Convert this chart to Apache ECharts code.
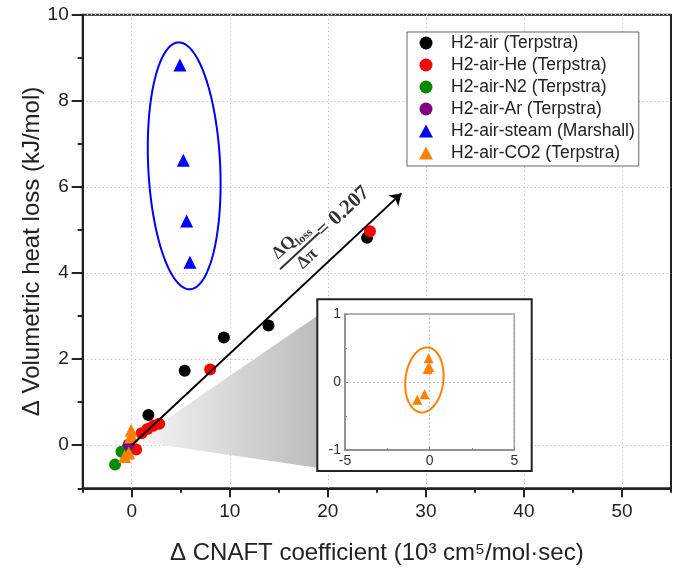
<!DOCTYPE html>
<html><head><meta charset="utf-8">
<script src="https://cdn.jsdelivr.net/npm/echarts@6/dist/echarts.min.js"></script>
<style>html,body{margin:0;padding:0;background:#fff}#c{width:678px;height:571px}</style>
</head><body><div id="c"></div>
<script>
// ---------- data ----------
const seriesNames = ['H2-air (Terpstra)','H2-air-He (Terpstra)','H2-air-N2 (Terpstra)','H2-air-Ar (Terpstra)','H2-air-steam (Marshall)','H2-air-CO2 (Terpstra)'];
const h2Air      = [[1.7,0.70],[5.4,1.73],[9.4,2.50],[13.95,2.78],[24.0,4.82]];
const h2AirHe    = [[0.45,-0.10],[1.0,0.28],[1.6,0.38],[2.2,0.45],[2.8,0.50],[8.0,1.76],[24.3,4.97]];
const h2AirN2    = [[-1.7,-0.45],[-1.05,-0.15],[-0.5,-0.08]];
const h2AirAr    = [[-0.3,0.02]];
const h2AirSteam = [[4.92,8.83],[5.26,6.62],[5.60,5.21],[5.94,4.25]];
const h2AirCO2   = [[-0.06,0.35],[-0.12,0.19],[-0.02,0.22],[-0.30,-0.18],[-0.73,-0.26]];
const fitLine    = [[0,0],[27.5,5.85]];
const fitText    = ['ΔQ','loss','Δπ','= 0.207'];
const fitTextAt  = [[17.0,4.55],[21.55,5.42]];
const xMajorTicks = [0,10,20,30,40,50];
const xMinorTicks = [-5,5,15,25,35,45,55];
const yMajorTicks = [0,2,4,6,8,10];
const yMinorTicks = [-1,1,3,5,7,9];
const insetXTicks = [-5,0,5];
const insetYTicks = [-1,0,1];
const insetXMinor = [-2.5,2.5];
const insetYMinor = [-0.5,0.5];
// annotations (data coords)
const steamEllipse = {cx:5.35, cy:6.49, rx:3.67, ry:2.87, rot:2.7};
const co2Ellipse   = {cx:-0.31, cy:0.03, rx:1.12, ry:0.48, rot:-6.7};
const zoomCone     = [[0.3,0.1],[18.9,3.0],[18.9,-0.52]];

const xName = 'Δ CNAFT coefficient (10³ cm⁵/mol·sec)';
const yName = 'Δ Volumetric heat loss (kJ/mol)';

// ---------- helpers ----------
const FONT = 'Liberation Sans, Arial, sans-serif';
const SERIF = 'Liberation Serif, Times New Roman, serif';
function ellipseRender(e, color){
  return function(params, api){
    const c = api.coord([e.cx, e.cy]);
    const s = api.size([e.rx, e.ry]);
    const a = e.rot*Math.PI/180, pts=[];
    for(let i=0;i<144;i++){
      const t=i/144*2*Math.PI, x=s[0]*Math.cos(t), y=s[1]*Math.sin(t);
      pts.push([c[0]+x*Math.cos(a)+y*Math.sin(a), c[1]-x*Math.sin(a)+y*Math.cos(a)]);
    }
    return {type:'polygon', shape:{points:pts}, style:{fill:'none', stroke:color, lineWidth:2}};
  };
}
function scatter(name, data, color, symbol, size, extra){
  return Object.assign({type:'scatter', name, data, symbol, symbolSize:size,
    itemStyle:{color, opacity:1}, z:3}, extra||{});
}
const axisCol = '#222';
const insetAxis = (range, ticks, minor, pos) => ([
  {type:'value', gridIndex:1, min:range[0], max:range[1], position:pos, zlevel:1, z:2,
   axisLine:{onZero:false, lineStyle:{color:'#888', width:1.5}},
   axisTick:{customValues:ticks, inside:true, length:3, lineStyle:{color:'#888', width:1}},
   axisLabel:{customValues:ticks, fontSize:14, color:'#333', margin:4},
   splitLine:{show:true, lineStyle:{color:'#b4b4b4', width:1, type:[1.5,2.5]}}},
  {type:'value', gridIndex:1, min:range[0], max:range[1], position:pos, offset:0, zlevel:1, z:2,
   axisLine:{show:false, onZero:false},
   axisTick:{customValues:minor, inside:true, length:2, lineStyle:{color:'#888', width:1}},
   axisLabel:{show:false}, splitLine:{show:false}}
]);
const chart = echarts.init(document.getElementById('c'), null, {renderer:'canvas'});
chart.setOption({
  animation:false,
  backgroundColor:'#fff',
  textStyle:{fontFamily:FONT},
  grid:[
    {left:82.7, top:14.7, right:7, bottom:82.7, show:true, borderColor:axisCol, borderWidth:2, z:0},
    {left:345, top:314, width:169.3, height:136, show:true, borderColor:'#999', borderWidth:1.5, zlevel:1, z:1}
  ],
  graphic:[
    {type:'rect', zlevel:1, z:0, shape:{x:317.3, y:299.3, width:214.4, height:171.7},
     style:{fill:'#fff', stroke:'#222', lineWidth:2}}
  ],
  xAxis:[
    {type:'value', gridIndex:0, min:-5, max:55, position:'bottom',
     axisLine:{onZero:false, lineStyle:{color:axisCol, width:2}},
     axisTick:{customValues:xMajorTicks, length:9, lineStyle:{color:axisCol, width:2}},
     axisLabel:{customValues:xMajorTicks, fontSize:19, color:'#222', margin:14, fontFamily:FONT},
     splitLine:{show:true, lineStyle:{color:'#c4c4c4', width:1, type:[1.5,2.5]}},
     name:xName, nameLocation:'middle', nameGap:53, nameMoveOverlap:false,
     nameTextStyle:{fontSize:24, color:'#222', fontFamily:FONT}},
    {type:'value', gridIndex:0, min:-5, max:55, position:'bottom', offset:0,
     axisLine:{show:false, onZero:false},
     axisTick:{customValues:xMinorTicks, length:4.5, lineStyle:{color:axisCol, width:2}},
     axisLabel:{show:false}, splitLine:{show:false}},
    ...insetAxis([-5,5], insetXTicks, insetXMinor, 'bottom')
  ],
  yAxis:[
    {type:'value', gridIndex:0, min:-1, max:10, position:'left',
     axisLine:{onZero:false, lineStyle:{color:axisCol, width:2}},
     axisTick:{customValues:yMajorTicks, length:11, lineStyle:{color:axisCol, width:2}},
     axisLabel:{customValues:yMajorTicks, fontSize:19, color:'#222', margin:14, fontFamily:FONT},
     splitLine:{show:true, lineStyle:{color:'#c4c4c4', width:1, type:[1.5,2.5]}},
     name:yName, nameLocation:'middle', nameGap:38, nameMoveOverlap:false,
     nameTextStyle:{fontSize:24, color:'#222', fontFamily:FONT}},
    {type:'value', gridIndex:0, min:-1, max:10, position:'left', offset:0,
     axisLine:{show:false, onZero:false},
     axisTick:{customValues:yMinorTicks, length:5, lineStyle:{color:axisCol, width:2}},
     axisLabel:{show:false}, splitLine:{show:false}},
    ...insetAxis([-1,1], insetYTicks, insetYMinor, 'left')
  ],
  legend:{
    data:seriesNames, orient:'vertical', left:407, top:32,
    padding:[2,4,4,12], itemWidth:14, itemHeight:13, itemGap:4,
    borderColor:'#666', borderWidth:1, backgroundColor:'#fff',
    textStyle:{fontSize:17.5, color:'#222', fontFamily:FONT, padding:[0,0,0,13]}
  },
  series:[
    {type:'custom', name:'cone', z:1, silent:true, data:[zoomCone[0]],
     renderItem:function(params, api){
       const pts = zoomCone.map(p=>api.coord(p));
       return {type:'polygon', shape:{points:pts}, style:{
         fill:new echarts.graphic.LinearGradient(0,0,1,0,[{offset:0,color:'#f6f6f6'},{offset:1,color:'#bcbcbc'}])}};
     }},
    scatter(seriesNames[0], h2Air, '#000000', 'circle', 12, {
      markLine:{silent:true, symbol:['none','arrow'], symbolSize:11, label:{show:false},
        lineStyle:{color:'#000', width:2, type:'solid'},
        data:[[{coord:fitLine[0]},{coord:fitLine[1]}]]}}),
    scatter(seriesNames[1], h2AirHe, '#ff0000', 'circle', 12),
    scatter(seriesNames[2], h2AirN2, '#008a00', 'circle', 12),
    scatter(seriesNames[3], h2AirAr, '#800080', 'circle', 12),
    scatter(seriesNames[4], h2AirSteam, '#0000ff', 'triangle', 13),
    scatter(seriesNames[5], h2AirCO2, '#ff8000', 'triangle', 13),
    {type:'custom', name:'steamEllipse', z:2, silent:true, data:[[steamEllipse.cx, steamEllipse.cy]],
     renderItem:ellipseRender(steamEllipse, '#0000ff')},
    {type:'scatter', name:'fitLabel', silent:true, symbolSize:0, z:5,
     data:[
       {value:fitTextAt[0], label:{show:true, position:'inside', rotate:43,
         formatter:'{n|'+fitText[0]+'}{s|'+fitText[1]+'}\n{bar|}\n{n|'+fitText[2]+'}',
         rich:{
           n:{fontFamily:SERIF, fontWeight:'bold', fontSize:18, color:'#000', lineHeight:20, align:'center'},
           s:{fontFamily:SERIF, fontWeight:'bold', fontSize:12, color:'#000', padding:[12,0,0,0]},
           bar:{width:54, height:2, backgroundColor:'#000', align:'center'}
         }}},
       {value:fitTextAt[1], label:{show:true, position:'inside', rotate:43,
         formatter:fitText[3], fontFamily:SERIF, fontWeight:'bold', fontSize:21, color:'#000'}}
     ]},
    scatter(seriesNames[5], h2AirCO2, '#ff8000', 'triangle', 10, {xAxisIndex:2, yAxisIndex:2, zlevel:1, z:4}),
    {type:'custom', name:'co2Ellipse', xAxisIndex:2, yAxisIndex:2, zlevel:1, z:4, silent:true,
     data:[[co2Ellipse.cx, co2Ellipse.cy]], renderItem:ellipseRender(co2Ellipse, '#ff8000')}
  ]
});
</script></body></html>
